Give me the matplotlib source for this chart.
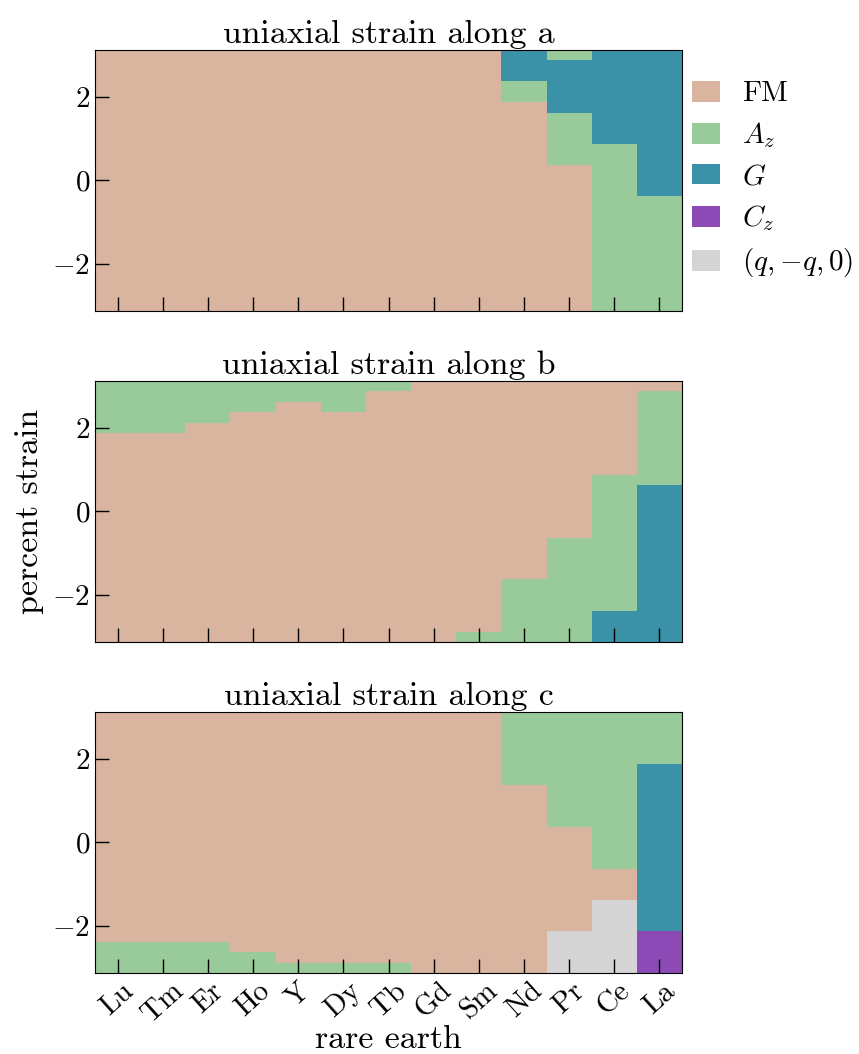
import numpy as np
import matplotlib
matplotlib.use("Agg")
import matplotlib.pyplot as plt
from matplotlib.colors import ListedColormap, BoundaryNorm
from matplotlib.patches import Patch

# fuente tipo LaTeX (Computer Modern incluida en matplotlib)
plt.rcParams['font.family'] = 'serif'
plt.rcParams['font.serif'] = ['cmr10']
plt.rcParams['mathtext.fontset'] = 'cm'
plt.rcParams['axes.formatter.use_mathtext'] = True

# DATOS
rare_earths = ['Lu', 'Tm', 'Er', 'Ho', 'Y', 'Dy', 'Tb', 'Gd', 'Sm', 'Nd', 'Pr', 'Ce', 'La']
phases = ['FM', 'Az', 'G', 'Cz', 'Q']
phase_labels = ['FM', '$A_z$', '$G$', '$C_z$', '$(q,{-}q,0)$']
phase_colors = ['#d9b49e', '#99ca99', '#3a91a8', '#8b4ab5', '#d4d4d4']

strain_step = 0.25
strain_min, strain_max = -3.0, 3.0

# cada columna: (fase, límite superior de la fase) de abajo hacia arriba
along_a = [
    [('FM', 3.125)],  # Lu
    [('FM', 3.125)],  # Tm
    [('FM', 3.125)],  # Er
    [('FM', 3.125)],  # Ho
    [('FM', 3.125)],  # Y
    [('FM', 3.125)],  # Dy
    [('FM', 3.125)],  # Tb
    [('FM', 3.125)],  # Gd
    [('FM', 3.125)],  # Sm
    [('FM', 1.875), ('Az', 2.375), ('G', 3.125)],  # Nd
    [('FM', 0.375), ('Az', 1.625), ('G', 2.875), ('Az', 3.125)],  # Pr
    [('Az', 0.875), ('G', 3.125)],  # Ce
    [('Az', -0.375), ('G', 3.125)],  # La
]

along_b = [
    [('FM', 1.875), ('Az', 3.125)],  # Lu
    [('FM', 1.875), ('Az', 3.125)],  # Tm
    [('FM', 2.125), ('Az', 3.125)],  # Er
    [('FM', 2.375), ('Az', 3.125)],  # Ho
    [('FM', 2.625), ('Az', 3.125)],  # Y
    [('FM', 2.375), ('Az', 3.125)],  # Dy
    [('FM', 2.875), ('Az', 3.125)],  # Tb
    [('FM', 3.125)],  # Gd
    [('Az', -2.875), ('FM', 3.125)],  # Sm
    [('Az', -1.625), ('FM', 3.125)],  # Nd
    [('Az', -0.625), ('FM', 3.125)],  # Pr
    [('G', -2.375), ('Az', 0.875), ('FM', 3.125)],  # Ce
    [('G', 0.625), ('Az', 2.875), ('FM', 3.125)],  # La
]

along_c = [
    [('Az', -2.375), ('FM', 3.125)],  # Lu
    [('Az', -2.375), ('FM', 3.125)],  # Tm
    [('Az', -2.375), ('FM', 3.125)],  # Er
    [('Az', -2.625), ('FM', 3.125)],  # Ho
    [('Az', -2.875), ('FM', 3.125)],  # Y
    [('Az', -2.875), ('FM', 3.125)],  # Dy
    [('Az', -2.875), ('FM', 3.125)],  # Tb
    [('FM', 3.125)],  # Gd
    [('FM', 3.125)],  # Sm
    [('FM', 1.375), ('Az', 3.125)],  # Nd
    [('Q', -2.125), ('FM', 0.375), ('Az', 3.125)],  # Pr
    [('Q', -1.375), ('FM', -0.625), ('Az', 3.125)],  # Ce
    [('Cz', -2.125), ('G', 1.875), ('Az', 3.125)],  # La
]

panels = [('uniaxial strain along a', along_a),
          ('uniaxial strain along b', along_b),
          ('uniaxial strain along c', along_c)]


def build_grid(columns, strains):
    grid = np.zeros((len(strains), len(columns)), dtype=int)
    for j, segments in enumerate(columns):
        for i, s in enumerate(strains):
            for name, upper in segments:
                if s < upper:
                    grid[i, j] = phases.index(name)
                    break
    return grid


strains = np.arange(strain_min, strain_max + strain_step / 2, strain_step)
y_edges = np.append(strains - strain_step / 2, strains[-1] + strain_step / 2)
x_edges = np.arange(len(rare_earths) + 1) - 0.5

cmap = ListedColormap(phase_colors)
norm = BoundaryNorm(np.arange(len(phases) + 1) - 0.5, cmap.N)

fig = plt.figure(figsize=(8.59, 10.54), dpi=100)
left, width = 0.1106, 0.6834
bottoms = [0.7049, 0.3909, 0.0769]
height = 0.2477

axes = []
for k, (title, columns) in enumerate(panels):
    ax = fig.add_axes([left, bottoms[k], width, height])
    grid = build_grid(columns, strains)
    ax.pcolormesh(x_edges, y_edges, grid, cmap=cmap, norm=norm, zorder=0)
    ax.set_xlim(x_edges[0], x_edges[-1])
    ax.set_ylim(y_edges[0], y_edges[-1])
    ax.set_title(title, fontsize=24.4, pad=5)
    ax.set_yticks([-2, 0, 2])
    ax.set_xticks(np.arange(len(rare_earths)))
    ax.tick_params(direction='in', length=10, width=1, labelsize=21)
    if k < 2:
        ax.set_xticklabels([])
    else:
        ax.set_xticklabels(rare_earths, rotation=42)
        ax.set_xlabel('rare earth', fontsize=24.4, labelpad=-2)
    if k == 1:
        ax.set_ylabel('percent strain', fontsize=24.4, labelpad=6)
    axes.append(ax)

handles = [Patch(facecolor=c, edgecolor='none') for c in phase_colors]
axes[0].legend(handles, phase_labels, loc='upper left', bbox_to_anchor=(1.0, 0.921),
               frameon=False, fontsize=21, handlelength=0.95, handleheight=0.72,
               labelspacing=0.45, handletextpad=0.75, borderaxespad=0.0,
               borderpad=0.35)

fig.savefig('out.png', dpi=100)
